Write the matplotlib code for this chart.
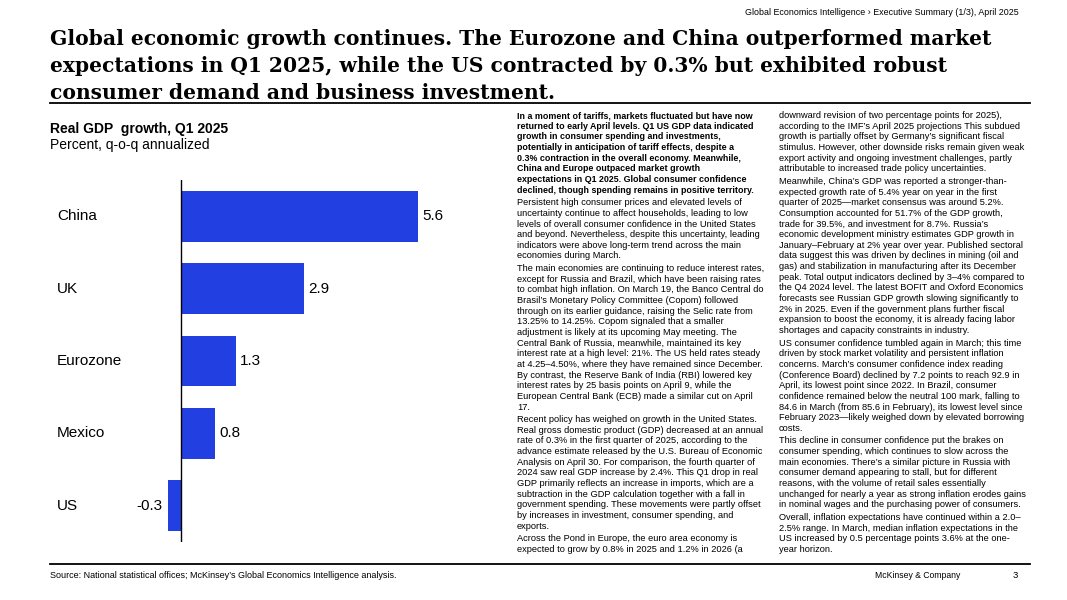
import matplotlib
matplotlib.use('Agg')
import matplotlib.pyplot as plt
from matplotlib.transforms import blended_transform_factory

# Chart data
countries = ['China', 'UK', 'Eurozone', 'Mexico', 'US']
growth = [5.6, 2.9, 1.3, 0.8, -0.3]

BLUE = '#2240E2'
W, H = 1067, 600

title_lines = [
    'Global economic growth continues. The Eurozone and China outperformed market',
    'expectations in Q1 2025, while the US contracted by 0.3% but exhibited robust',
    'consumer demand and business investment.',
]

col1 = [
    ['In a moment of tariffs, markets fluctuated but have now',
     'returned to early April levels. Q1 US GDP data indicated',
     'growth in consumer spending and investments,',
     'potentially in anticipation of tariff effects, despite a',
     '0.3% contraction in the overall economy. Meanwhile,',
     'China and Europe outpaced market growth',
     'expectations in Q1 2025. Global consumer confidence',
     'declined, though spending remains in positive territory.'],
    ['Persistent high consumer prices and elevated levels of',
     'uncertainty continue to affect households, leading to low',
     'levels of overall consumer confidence in the United States',
     'and beyond. Nevertheless, despite this uncertainty, leading',
     'indicators were above long-term trend across the main',
     'economies during March.'],
    ['The main economies are continuing to reduce interest rates,',
     'except for Russia and Brazil, which have been raising rates',
     'to combat high inflation. On March 19, the Banco Central do',
     'Brasil\u2019s Monetary Policy Committee (Copom) followed',
     'through on its earlier guidance, raising the Selic rate from',
     '13.25% to 14.25%. Copom signaled that a smaller',
     'adjustment is likely at its upcoming May meeting. The',
     'Central Bank of Russia, meanwhile, maintained its key',
     'interest rate at a high level: 21%. The US held rates steady',
     'at 4.25\u20134.50%, where they have remained since December.',
     'By contrast, the Reserve Bank of India (RBI) lowered key',
     'interest rates by 25 basis points on April 9, while the',
     'European Central Bank (ECB) made a similar cut on April',
     '17.'],
    ['Recent policy has weighed on growth in the United States.',
     'Real gross domestic product (GDP) decreased at an annual',
     'rate of 0.3% in the first quarter of 2025, according to the',
     'advance estimate released by the U.S. Bureau of Economic',
     'Analysis on April 30. For comparison, the fourth quarter of',
     '2024 saw real GDP increase by 2.4%. This Q1 drop in real',
     'GDP primarily reflects an increase in imports, which are a',
     'subtraction in the GDP calculation together with a fall in',
     'government spending. These movements were partly offset',
     'by increases in investment, consumer spending, and',
     'exports.'],
    ['Across the Pond in Europe, the euro area economy is',
     'expected to grow by 0.8% in 2025 and 1.2% in 2026 (a'],
]

col2 = [
    ['downward revision of two percentage points for 2025),',
     'according to the IMF\u2019s April 2025 projections This subdued',
     'growth is partially offset by Germany\u2019s significant fiscal',
     'stimulus. However, other downside risks remain given weak',
     'export activity and ongoing investment challenges, partly',
     'attributable to increased trade policy uncertainties.'],
    ['Meanwhile, China\u2019s GDP was reported a stronger-than-',
     'expected growth rate of 5.4% year on year in the first',
     'quarter of 2025\u2014market consensus was around 5.2%.',
     'Consumption accounted for 51.7% of the GDP growth,',
     'trade for 39.5%, and investment for 8.7%. Russia\u2019s',
     'economic development ministry estimates GDP growth in',
     'January\u2013February at 2% year over year. Published sectoral',
     'data suggest this was driven by declines in mining (oil and',
     'gas) and stabilization in manufacturing after its December',
     'peak. Total output indicators declined by 3\u20134% compared to',
     'the Q4 2024 level. The latest BOFIT and Oxford Economics',
     'forecasts see Russian GDP growth slowing significantly to',
     '2% in 2025. Even if the government plans further fiscal',
     'expansion to boost the economy, it is already facing labor',
     'shortages and capacity constraints in industry.'],
    ['US consumer confidence tumbled again in March; this time',
     'driven by stock market volatility and persistent inflation',
     'concerns. March\u2019s consumer confidence index reading',
     '(Conference Board) declined by 7.2 points to reach 92.9 in',
     'April, its lowest point since 2022. In Brazil, consumer',
     'confidence remained below the neutral 100 mark, falling to',
     '84.6 in March (from 85.6 in February), its lowest level since',
     'February 2023\u2014likely weighed down by elevated borrowing',
     'costs.'],
    ['This decline in consumer confidence put the brakes on',
     'consumer spending, which continues to slow across the',
     'main economies. There\u2019s a similar picture in Russia with',
     'consumer demand appearing to stall, but for different',
     'reasons, with the volume of retail sales essentially',
     'unchanged for nearly a year as strong inflation erodes gains',
     'in nominal wages and the purchasing power of consumers.'],
    ['Overall, inflation expectations have continued within a 2.0\u2013',
     '2.5% range. In March, median inflation expectations in the',
     'US increased by 0.5 percentage points 3.6% at the one-',
     'year horizon.'],
]

plt.rcParams['font.family'] = ['Liberation Sans', 'DejaVu Sans']

fig = plt.figure(figsize=(W / 100, H / 100), dpi=100)


def fx(px):
    return px / W


def fy(py):
    return 1 - py / H


# header / title
fig.text(fx(1019), fy(15), 'Global Economics Intelligence \u203a Executive Summary (1/3), April 2025',
         ha='right', va='baseline', fontsize=6.4)
for i, line in enumerate(title_lines):
    fig.text(fx(50), fy(45 + i * 27), line, ha='left', va='baseline', fontsize=14.6,
             fontweight='bold', family=['DejaVu Serif'])

# rules
fig.add_artist(plt.Line2D([fx(50), fx(1030)], [fy(102.5), fy(102.5)], color='black', lw=1.3))
fig.add_artist(plt.Line2D([fx(50), fx(1030)], [fy(564), fy(564)], color='black', lw=1.3))

# chart titles
fig.text(fx(50), fy(133), 'Real GDP  growth, Q1 2025', fontsize=10, fontweight='bold', va='baseline')
fig.text(fx(50), fy(149), 'Percent, q-o-q annualized', fontsize=10, va='baseline')

# bar chart
scale = 42.4
xmin, xmax = -1, 6.5
ax = fig.add_axes([fx(181 + xmin * scale), fy(542), fx((xmax - xmin) * scale), 362 / H])
ypos = list(range(len(countries)))
ax.barh(ypos, growth, height=0.7, color=BLUE)
ax.axvline(0, color='black', lw=1)
ax.set_xlim(xmin, xmax)
ax.set_ylim(4.5, -0.5)
ax.axis('off')

trans = blended_transform_factory(fig.transFigure, ax.transData)
for y, name, v in zip(ypos, countries, growth):
    ax.text(fx(57), y, name, transform=trans, ha='left', va='center', fontsize=11)
    if v >= 0:
        ax.annotate(f'{v}', (v, y), xytext=(3, 0), textcoords='offset points',
                    ha='left', va='center', fontsize=11)
    else:
        ax.annotate(f'{v}', (v, y), xytext=(-4.5, 0), textcoords='offset points',
                    ha='right', va='center', fontsize=11)

# text columns
pitch = 10.65
gap = 2.0


def draw_column(paras, x, y0, bold_first=False):
    y = y0
    for pi, para in enumerate(paras):
        bold = bold_first and pi == 0
        for line in para:
            fig.text(fx(x), fy(y), line, ha='left', va='baseline',
                     fontsize=6.4 if bold else 6.65,
                     fontweight='bold' if bold else 'normal')
            y += pitch
        y += gap


draw_column(col1, 517, 118, bold_first=True)
draw_column(col2, 779, 118)

# footer
fig.text(fx(50), fy(578), 'Source: National statistical offices; McKinsey\u2019s Global Economics Intelligence analysis.',
         fontsize=6.45, va='baseline')
fig.text(fx(960), fy(578), 'McKinsey & Company', fontsize=6.2, ha='right', va='baseline')
fig.text(fx(1018), fy(578), '3', fontsize=6.8, ha='right', va='baseline')

fig.savefig('out.png', dpi=100)
plt.close(fig)
